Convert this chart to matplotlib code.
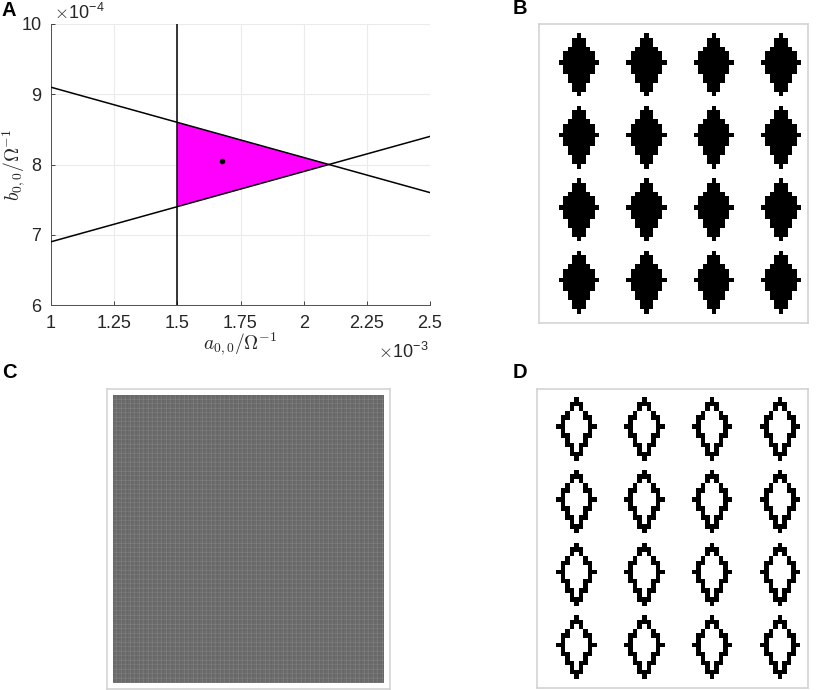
import numpy as np
import matplotlib
matplotlib.use("Agg")
import matplotlib.pyplot as plt

plt.rcParams['font.family'] = ['Liberation Sans', 'DejaVu Sans']
plt.rcParams['mathtext.fontset'] = 'cm'

W, H = 823, 690

# panel A
x_ticks = [1, 1.25, 1.5, 1.75, 2, 2.25, 2.5]
x_tick_labels = ['1', '1.25', '1.5', '1.75', '2', '2.25', '2.5']
y_ticks = [6, 7, 8, 9, 10]
upper_x = [1, 2.5]
upper_y = [9.1, 7.6]
lower_x = [1, 2.5]
lower_y = [6.9, 8.4]
vert_x = [1.5, 1.5]
vert_y = [6, 10]
region_x = [1.5, 2.1, 1.5]
region_y = [8.6, 8.0, 7.4]
point_x = [1.675]
point_y = [8.05]

# unit cell, width of black run on each row
outer_rows = [1, 3, 3, 5, 7, 7, 9, 7, 7, 5, 5, 3, 3, 1]
hole_rows = [0, 0, 1, 3, 3, 5, 5, 5, 3, 3, 1, 1, 0, 0]

# panel C, brightness of one repeat along each direction
c_col_profile = [0.40, 0.42, 0.43, 0.50, 0.41, 0.40, 0.44, 0.42, 0.52]
c_row_profile = [0.41, 0.40, 0.43, 0.42, 0.51, 0.40, 0.42, 0.41, 0.49]


def px_axes(left, top, right, bottom):
    return fig.add_axes([left / W, 1 - bottom / H, (right - left) / W, (bottom - top) / H])


def cell_rows(widths):
    rows = []
    for w in widths:
        r = np.zeros(15)
        r[8 - w // 2:8 + w // 2 + 1] = 1 if w else 0
        rows.append(r)
    return np.array(rows)


def tile_panel(rows):
    # 4x4 cells on a 60x66 pixel board
    board = np.zeros((66, 60))
    for i in range(4):
        for j in range(4):
            y0 = 2 + 16 * i
            x0 = 15 * j
            board[y0:y0 + 14, x0:x0 + 15] = rows
    return board


def frame(ax):
    ax.set_xticks([])
    ax.set_yticks([])
    for s in ax.spines.values():
        s.set_color('#d0d0d0')
        s.set_linewidth(1.1)


fig = plt.figure(figsize=(W / 100, H / 100), dpi=100)

# A
ax = px_axes(51, 24, 430, 305)
ax.set_xlim(1, 2.5)
ax.set_ylim(6, 10)
ax.grid(True, color='#ebebeb', lw=0.8)
ax.set_axisbelow(True)
ax.fill(region_x, region_y, color='#ff00ff', lw=0, zorder=2)
ax.plot(upper_x, upper_y, color='black', lw=1.1, zorder=3)
ax.plot(lower_x, lower_y, color='black', lw=1.1, zorder=3)
ax.plot(vert_x, vert_y, color='black', lw=1.1, zorder=3)
ax.plot(point_x, point_y, 'o', color='black', ms=3, zorder=4)
ax.set_xticks(x_ticks)
ax.set_xticklabels(x_tick_labels)
ax.set_yticks(y_ticks)
ax.tick_params(direction='in', length=3, width=0.7, color='#404040', labelcolor='#262626', labelsize=13, pad=7)
ax.spines['top'].set_visible(False)
ax.spines['right'].set_visible(False)
ax.spines['left'].set_color('#505050')
ax.spines['bottom'].set_color('#505050')
ax.spines['left'].set_linewidth(0.7)
ax.spines['bottom'].set_linewidth(0.7)

fig.text(240 / W, 1 - 344 / H, r'$a_{0,0}/\Omega^{-1}$', fontsize=14, color='#262626', ha='center', va='center')
fig.text(14 / W, 1 - 165 / H, r'$b_{0,0}/\Omega^{-1}$', fontsize=14, color='#262626', ha='center', va='center', rotation=90)
fig.text(429 / W, 1 - 352 / H, r'$\times$10$^{\mathregular{-3}}$', fontsize=13, color='#262626', ha='right', va='center')
fig.text(54 / W, 1 - 13 / H, r'$\times$10$^{\mathregular{-4}}$', fontsize=13, color='#262626', ha='left', va='center')

# B
ax = px_axes(539, 24, 808, 323)
solid = cell_rows(outer_rows)
ax.imshow(tile_panel(solid), cmap='gray_r', vmin=0, vmax=1, aspect='auto', interpolation='nearest')
ax.set_xlim(-1, 59)
frame(ax)

# C
ax = px_axes(107, 389, 390, 689)
frame(ax)
nx, ny = 271, 288
cols = np.resize(c_col_profile, nx)
rows = np.resize(c_row_profile, ny)
ax.imshow(np.add.outer(rows, cols) / 2, cmap='gray', vmin=0, vmax=1, extent=(113, 384, 683, 395),
          aspect='auto', interpolation='nearest')
ax.set_xlim(107, 390)
ax.set_ylim(689, 389)

# D
ax = px_axes(537, 389, 808, 688)
ring = solid - cell_rows(hole_rows)
ax.imshow(tile_panel(ring), cmap='gray_r', vmin=0, vmax=1, aspect='auto', interpolation='nearest')
ax.set_xlim(-0.8, 59.2)
frame(ax)

# panel letters
for letter, lx, ly in [('A', 2, 10), ('B', 513, 9), ('C', 2, 373), ('D', 513, 373)]:
    fig.text(lx / W, 1 - ly / H, letter, fontsize=14.5, fontweight='bold', color='black', ha='left', va='center')

fig.savefig('out.png', dpi=100)
